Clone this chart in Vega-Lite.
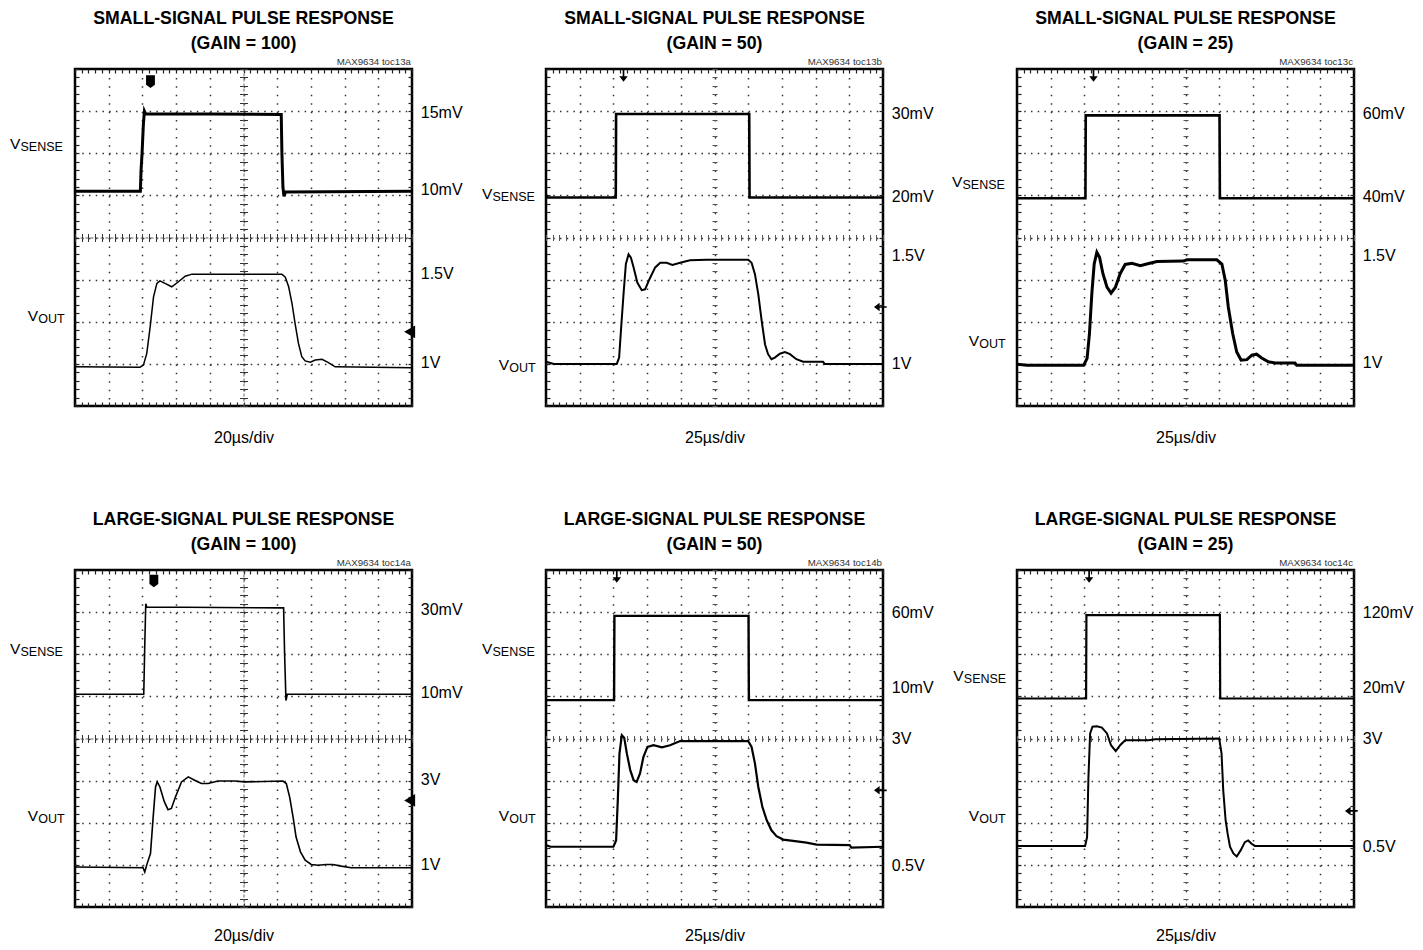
{
"$schema":"https://vega.github.io/schema/vega-lite/v6.json",
"background":"white",
"padding":{"left":8,"top":8,"right":5,"bottom":5},
"bounds":"flush",
"columns":3,
"spacing":{"column":134,"row":164},
"datasets":{
"p1_vsense":[{"x":0,"y":5.1},{"x":1.94,"y":5.1},{"x":1.96,"y":5.6},{"x":1.99,"y":6.0},{"x":2.03,"y":6.7},{"x":2.06,"y":7.0},{"x":2.1,"y":6.93},{"x":4.0,"y":6.93},{"x":6.12,"y":6.92},{"x":6.14,"y":6.0},{"x":6.17,"y":5.2},{"x":6.2,"y":4.98},{"x":6.25,"y":5.08},{"x":10,"y":5.1}],
"p1_vout":[{"x":0,"y":0.93},{"x":1.93,"y":0.92},{"x":2.03,"y":0.97},{"x":2.13,"y":1.25},{"x":2.23,"y":1.88},{"x":2.33,"y":2.59},{"x":2.43,"y":2.91},{"x":2.52,"y":2.97},{"x":2.67,"y":2.91},{"x":2.87,"y":2.83},{"x":3.07,"y":2.95},{"x":3.27,"y":3.08},{"x":3.47,"y":3.13},{"x":6.14,"y":3.13},{"x":6.24,"y":3.06},{"x":6.34,"y":2.83},{"x":6.44,"y":2.43},{"x":6.53,"y":1.96},{"x":6.63,"y":1.49},{"x":6.73,"y":1.17},{"x":6.83,"y":1.07},{"x":6.98,"y":1.04},{"x":7.13,"y":1.09},{"x":7.33,"y":1.11},{"x":7.52,"y":1.03},{"x":7.72,"y":0.93},{"x":10,"y":0.91}],
"p2_vsense":[{"x":0,"y":5.0},{"x":0.05,"y":4.95},{"x":2.07,"y":4.95},{"x":2.08,"y":6.93},{"x":6.03,"y":6.93},{"x":6.04,"y":4.95},{"x":10,"y":4.95}],
"p2_vout":[{"x":0,"y":1.05},{"x":0.23,"y":1.0},{"x":2.1,"y":1.0},{"x":2.17,"y":1.15},{"x":2.23,"y":1.86},{"x":2.3,"y":2.65},{"x":2.37,"y":3.37},{"x":2.45,"y":3.6},{"x":2.52,"y":3.52},{"x":2.6,"y":3.29},{"x":2.71,"y":2.93},{"x":2.84,"y":2.75},{"x":2.94,"y":2.77},{"x":3.07,"y":3.01},{"x":3.24,"y":3.29},{"x":3.39,"y":3.4},{"x":3.58,"y":3.4},{"x":3.75,"y":3.35},{"x":3.98,"y":3.4},{"x":4.27,"y":3.46},{"x":4.77,"y":3.47},{"x":6.0,"y":3.47},{"x":6.1,"y":3.4},{"x":6.2,"y":3.13},{"x":6.3,"y":2.65},{"x":6.4,"y":2.02},{"x":6.5,"y":1.46},{"x":6.59,"y":1.23},{"x":6.69,"y":1.11},{"x":6.79,"y":1.15},{"x":6.94,"y":1.24},{"x":7.09,"y":1.28},{"x":7.24,"y":1.23},{"x":7.43,"y":1.11},{"x":7.63,"y":1.05},{"x":8.22,"y":1.05},{"x":8.27,"y":1.0},{"x":10,"y":1.0}],
"p3_vsense":[{"x":0,"y":4.93},{"x":2.03,"y":4.93},{"x":2.04,"y":6.9},{"x":6.01,"y":6.9},{"x":6.02,"y":4.93},{"x":10,"y":4.93}],
"p3_vout":[{"x":0,"y":0.99},{"x":0.3,"y":0.97},{"x":1.98,"y":0.97},{"x":2.08,"y":1.13},{"x":2.15,"y":1.72},{"x":2.22,"y":2.66},{"x":2.29,"y":3.37},{"x":2.37,"y":3.65},{"x":2.45,"y":3.53},{"x":2.55,"y":3.14},{"x":2.67,"y":2.82},{"x":2.79,"y":2.68},{"x":2.92,"y":2.82},{"x":3.06,"y":3.14},{"x":3.21,"y":3.36},{"x":3.41,"y":3.39},{"x":3.66,"y":3.33},{"x":3.85,"y":3.37},{"x":4.15,"y":3.43},{"x":4.94,"y":3.44},{"x":5.04,"y":3.47},{"x":5.93,"y":3.47},{"x":6.08,"y":3.37},{"x":6.18,"y":2.98},{"x":6.27,"y":2.35},{"x":6.4,"y":1.72},{"x":6.52,"y":1.28},{"x":6.65,"y":1.09},{"x":6.82,"y":1.1},{"x":6.97,"y":1.21},{"x":7.11,"y":1.23},{"x":7.26,"y":1.14},{"x":7.46,"y":1.05},{"x":7.66,"y":1.02},{"x":8.25,"y":1.02},{"x":8.3,"y":0.97},{"x":10,"y":0.97}],
"p4_vsense":[{"x":0,"y":5.05},{"x":2.04,"y":5.05},{"x":2.07,"y":6.2},{"x":2.1,"y":7.2},{"x":2.13,"y":7.12},{"x":6.19,"y":7.1},{"x":6.22,"y":6.0},{"x":6.26,"y":4.9},{"x":6.3,"y":5.05},{"x":10,"y":5.05}],
"p4_vout":[{"x":0,"y":0.95},{"x":2.02,"y":0.93},{"x":2.07,"y":0.83},{"x":2.14,"y":1.03},{"x":2.24,"y":1.27},{"x":2.32,"y":2.14},{"x":2.39,"y":2.85},{"x":2.44,"y":2.97},{"x":2.52,"y":2.85},{"x":2.65,"y":2.5},{"x":2.76,"y":2.31},{"x":2.86,"y":2.34},{"x":2.98,"y":2.61},{"x":3.16,"y":2.97},{"x":3.36,"y":3.09},{"x":3.55,"y":3.01},{"x":3.75,"y":2.93},{"x":3.95,"y":2.93},{"x":4.24,"y":2.99},{"x":4.74,"y":2.99},{"x":5.03,"y":2.97},{"x":6.17,"y":2.99},{"x":6.27,"y":2.93},{"x":6.37,"y":2.61},{"x":6.47,"y":2.14},{"x":6.56,"y":1.66},{"x":6.69,"y":1.31},{"x":6.83,"y":1.11},{"x":7.01,"y":1.01},{"x":7.21,"y":0.99},{"x":7.45,"y":1.01},{"x":7.65,"y":1.01},{"x":7.9,"y":0.97},{"x":8.19,"y":0.93},{"x":10,"y":0.93}],
"p5_vsense":[{"x":0,"y":4.91},{"x":2.02,"y":4.91},{"x":2.03,"y":6.91},{"x":6.01,"y":6.91},{"x":6.02,"y":4.91},{"x":10,"y":4.91}],
"p5_vout":[{"x":0,"y":1.47},{"x":0.13,"y":1.43},{"x":2.0,"y":1.43},{"x":2.08,"y":1.58},{"x":2.13,"y":2.53},{"x":2.18,"y":3.64},{"x":2.25,"y":4.08},{"x":2.32,"y":4.02},{"x":2.4,"y":3.64},{"x":2.5,"y":3.25},{"x":2.6,"y":3.01},{"x":2.69,"y":2.97},{"x":2.79,"y":3.17},{"x":2.89,"y":3.56},{"x":3.01,"y":3.8},{"x":3.19,"y":3.84},{"x":3.44,"y":3.79},{"x":3.68,"y":3.84},{"x":3.98,"y":3.94},{"x":4.77,"y":3.94},{"x":6.0,"y":3.94},{"x":6.1,"y":3.8},{"x":6.2,"y":3.41},{"x":6.3,"y":2.85},{"x":6.42,"y":2.38},{"x":6.55,"y":2.06},{"x":6.69,"y":1.82},{"x":6.84,"y":1.68},{"x":7.04,"y":1.6},{"x":7.33,"y":1.57},{"x":7.73,"y":1.53},{"x":8.03,"y":1.48},{"x":9.01,"y":1.47},{"x":9.06,"y":1.41},{"x":10,"y":1.43}],
"p6_vsense":[{"x":0,"y":4.95},{"x":2.05,"y":4.95},{"x":2.06,"y":6.93},{"x":6.02,"y":6.93},{"x":6.03,"y":4.95},{"x":10,"y":4.95}],
"p6_vout":[{"x":0,"y":1.45},{"x":2.02,"y":1.45},{"x":2.08,"y":1.66},{"x":2.12,"y":3.09},{"x":2.17,"y":4.12},{"x":2.24,"y":4.28},{"x":2.37,"y":4.29},{"x":2.52,"y":4.26},{"x":2.67,"y":4.12},{"x":2.79,"y":3.84},{"x":2.93,"y":3.7},{"x":3.06,"y":3.84},{"x":3.21,"y":3.96},{"x":3.9,"y":3.96},{"x":4.1,"y":3.98},{"x":6.0,"y":4.0},{"x":6.07,"y":3.64},{"x":6.12,"y":2.77},{"x":6.19,"y":2.06},{"x":6.25,"y":1.74},{"x":6.32,"y":1.43},{"x":6.42,"y":1.27},{"x":6.52,"y":1.2},{"x":6.64,"y":1.35},{"x":6.76,"y":1.54},{"x":6.86,"y":1.58},{"x":6.96,"y":1.5},{"x":7.06,"y":1.45},{"x":10,"y":1.45}],
"p1_scale":[{"label":"15mV","y":6.95},{"label":"10mV","y":5.13},{"label":"1.5V","y":3.13},{"label":"1V","y":1.01}],
"p2_scale":[{"label":"30mV","y":6.93},{"label":"20mV","y":4.96},{"label":"1.5V","y":3.56},{"label":"1V","y":0.99}],
"p3_scale":[{"label":"60mV","y":6.92},{"label":"40mV","y":4.96},{"label":"1.5V","y":3.57},{"label":"1V","y":1.01}],
"p4_scale":[{"label":"30mV","y":7.05},{"label":"10mV","y":5.09},{"label":"3V","y":3.01},{"label":"1V","y":0.99}],
"p5_scale":[{"label":"60mV","y":6.97},{"label":"10mV","y":5.19},{"label":"3V","y":3.98},{"label":"0.5V","y":0.97}],
"p6_scale":[{"label":"120mV","y":6.97},{"label":"20mV","y":5.19},{"label":"3V","y":3.98},{"label":"0.5V","y":1.43}],
"p1_names":[{"main":"V","sub":"SENSE","x":-1.93,"y":6.09},{"main":"V","sub":"OUT","x":-1.4,"y":2.02}],
"p2_names":[{"main":"V","sub":"SENSE","x":-1.9,"y":4.91},{"main":"V","sub":"OUT","x":-1.4,"y":0.85}],
"p3_names":[{"main":"V","sub":"SENSE","x":-1.93,"y":5.21},{"main":"V","sub":"OUT","x":-1.43,"y":1.42}],
"p4_names":[{"main":"V","sub":"SENSE","x":-1.93,"y":6.0},{"main":"V","sub":"OUT","x":-1.4,"y":2.04}],
"p5_names":[{"main":"V","sub":"SENSE","x":-1.9,"y":6.0},{"main":"V","sub":"OUT","x":-1.4,"y":2.04}],
"p6_names":[{"main":"V","sub":"SENSE","x":-1.89,"y":5.37},{"main":"V","sub":"OUT","x":-1.43,"y":2.04}],
"p1_markers":[{"kind":"T","x":2.24,"y":7.7},{"kind":"diamond","x":9.93,"y":1.76}],
"p2_markers":[{"kind":"arrow","x":2.3,"y":7.83},{"kind":"left","x":9.9,"y":2.35}],
"p3_markers":[{"kind":"arrow","x":2.27,"y":7.83}],
"p4_markers":[{"kind":"T","x":2.34,"y":7.74},{"kind":"diamond","x":9.93,"y":2.53}],
"p5_markers":[{"kind":"arrow","x":2.1,"y":7.83},{"kind":"left","x":9.9,"y":2.77}],
"p6_markers":[{"kind":"arrow","x":2.14,"y":7.83},{"kind":"left","x":9.9,"y":2.28}]
},
"concat":[
{"width":337,"height":337,"title":{"text":["SMALL-SIGNAL PULSE RESPONSE","(GAIN = 100)"]},"resolve":{"axis":{"x":"independent","y":"independent"}},
"layer":[
{"data":{"name":"p1_vsense"},"mark":{"type":"line","color":"black","strokeWidth":3},"encoding":{"x":{"field":"x","type":"quantitative","scale":{"domain":[0,10],"nice":false,"zero":false},"axis":{"orient":"bottom","values":[1,2,3,4,5,6,7,8,9],"grid":true,"gridDash":[1.5,6.925],"ticks":false,"title":"20µs/div","titlePadding":23.5}},"y":{"field":"y","type":"quantitative","scale":{"domain":[0,8],"nice":false,"zero":false},"axis":{"orient":"left","values":[1,2,3,4,5,6,7],"grid":true,"gridDash":[1.5,5.24],"ticks":false,"title":null}}}},
{"data":{"name":"p1_vout"},"mark":{"type":"line","color":"black","strokeWidth":1.5},"encoding":{"x":{"field":"x","type":"quantitative","scale":{"domain":[0,10],"nice":false,"zero":false},"axis":{"orient":"bottom","offset":-4,"tickCount":50,"title":null}},"y":{"field":"y","type":"quantitative","scale":{"domain":[0,8],"nice":false,"zero":false},"axis":{"orient":"left","offset":-4,"tickCount":40,"title":null}}}},
{"data":{"name":"p1_scale"},"mark":{"type":"text","align":"left","baseline":"middle","fontSize":16},"encoding":{"x":{"datum":10.26,"type":"quantitative","scale":{"domain":[0,10],"nice":false,"zero":false},"axis":{"orient":"top","offset":-4,"tickCount":50,"title":null}},"y":{"field":"y","type":"quantitative","scale":{"domain":[0,8],"nice":false,"zero":false},"axis":{"orient":"right","offset":-4,"tickCount":40,"title":null}},"text":{"field":"label"}}},
{"data":{"name":"p1_names"},"mark":{"type":"text","align":"left","baseline":"alphabetic","fontSize":15.5},"encoding":{"x":{"field":"x","type":"quantitative","scale":{"domain":[0,10],"nice":false,"zero":false},"axis":{"orient":"bottom","offset":-168.5,"tickCount":50,"tickSize":4,"tickWidth":1,"tickColor":"#333","title":null,"domain":true,"domainDash":[3,2],"domainColor":"#666","domainWidth":1}},"y":{"field":"y","type":"quantitative","scale":{"domain":[0,8],"nice":false,"zero":false},"axis":{"orient":"left","offset":-168.5,"tickCount":40,"tickSize":4,"tickWidth":1,"tickColor":"#333","title":null,"domain":true,"domainDash":[3,2],"domainColor":"#666","domainWidth":1}},"text":{"field":"main"}}},
{"data":{"name":"p1_names"},"mark":{"type":"text","align":"left","baseline":"alphabetic","fontSize":12.5,"dx":10.5,"dy":2},"encoding":{"x":{"field":"x","type":"quantitative","scale":{"domain":[0,10],"nice":false,"zero":false},"axis":{"orient":"top","offset":-168.5,"tickCount":50,"tickSize":4,"tickWidth":1,"tickColor":"#333","title":null}},"y":{"field":"y","type":"quantitative","scale":{"domain":[0,8],"nice":false,"zero":false},"axis":{"orient":"right","offset":-168.5,"tickCount":40,"tickSize":4,"tickWidth":1,"tickColor":"#333","title":null}},"text":{"field":"sub"}}},
{"data":{"name":"p1_markers"},"mark":{"type":"point","filled":true,"color":"black","opacity":1,"size":160},"encoding":{"x":{"field":"x","type":"quantitative","scale":{"domain":[0,10],"nice":false,"zero":false},"axis":null},"y":{"field":"y","type":"quantitative","scale":{"domain":[0,8],"nice":false,"zero":false},"axis":null},"shape":{"field":"kind","type":"nominal","scale":{"domain":["T","arrow","diamond","left"],"range":["M-0.7,-1L0.7,-1L0.7,0.5L0,1L-0.7,0.5Z","M-0.12,-1L0.12,-1L0.12,0L0.6,0L0,0.8L-0.6,0L-0.12,0Z","triangle-left","M1,-0.12L0,-0.12L0,-0.6L-0.8,0L0,0.6L0,0.12L1,0.12Z"]},"legend":null}}},
{"data":{"values":[{"id":"MAX9634 toc13a"}]},"mark":{"type":"text","align":"right","baseline":"alphabetic","fontSize":9.7,"color":"#333"},"encoding":{"x":{"datum":9.97,"type":"quantitative","scale":{"domain":[0,10],"nice":false,"zero":false},"axis":null},"y":{"datum":8.1,"type":"quantitative","scale":{"domain":[0,8],"nice":false,"zero":false},"axis":null},"text":{"field":"id"}}}
]},
{"width":337,"height":337,"title":{"text":["SMALL-SIGNAL PULSE RESPONSE","(GAIN = 50)"]},"resolve":{"axis":{"x":"independent","y":"independent"}},
"layer":[
{"data":{"name":"p2_vsense"},"mark":{"type":"line","color":"black","strokeWidth":2.6},"encoding":{"x":{"field":"x","type":"quantitative","scale":{"domain":[0,10],"nice":false,"zero":false},"axis":{"orient":"bottom","values":[1,2,3,4,5,6,7,8,9],"grid":true,"gridDash":[1.5,6.925],"ticks":false,"title":"25µs/div","titlePadding":23.5}},"y":{"field":"y","type":"quantitative","scale":{"domain":[0,8],"nice":false,"zero":false},"axis":{"orient":"left","values":[1,2,3,4,5,6,7],"grid":true,"gridDash":[1.5,5.24],"ticks":false,"title":null}}}},
{"data":{"name":"p2_vout"},"mark":{"type":"line","color":"black","strokeWidth":2},"encoding":{"x":{"field":"x","type":"quantitative","scale":{"domain":[0,10],"nice":false,"zero":false},"axis":{"orient":"bottom","offset":-4,"tickCount":50,"title":null}},"y":{"field":"y","type":"quantitative","scale":{"domain":[0,8],"nice":false,"zero":false},"axis":{"orient":"left","offset":-4,"tickCount":40,"title":null}}}},
{"data":{"name":"p2_scale"},"mark":{"type":"text","align":"left","baseline":"middle","fontSize":16},"encoding":{"x":{"datum":10.26,"type":"quantitative","scale":{"domain":[0,10],"nice":false,"zero":false},"axis":{"orient":"top","offset":-4,"tickCount":50,"title":null}},"y":{"field":"y","type":"quantitative","scale":{"domain":[0,8],"nice":false,"zero":false},"axis":{"orient":"right","offset":-4,"tickCount":40,"title":null}},"text":{"field":"label"}}},
{"data":{"name":"p2_names"},"mark":{"type":"text","align":"left","baseline":"alphabetic","fontSize":15.5},"encoding":{"x":{"field":"x","type":"quantitative","scale":{"domain":[0,10],"nice":false,"zero":false},"axis":{"orient":"bottom","offset":-168.5,"tickCount":50,"tickSize":3,"tickWidth":1,"tickColor":"#555","title":null}},"y":{"field":"y","type":"quantitative","scale":{"domain":[0,8],"nice":false,"zero":false},"axis":{"orient":"left","offset":-168.5,"tickCount":40,"tickSize":2.5,"tickWidth":1,"tickColor":"#555","title":null}},"text":{"field":"main"}}},
{"data":{"name":"p2_names"},"mark":{"type":"text","align":"left","baseline":"alphabetic","fontSize":12.5,"dx":10.5,"dy":2},"encoding":{"x":{"field":"x","type":"quantitative","scale":{"domain":[0,10],"nice":false,"zero":false},"axis":{"orient":"top","offset":-168.5,"tickCount":50,"tickSize":3,"tickWidth":1,"tickColor":"#555","title":null}},"y":{"field":"y","type":"quantitative","scale":{"domain":[0,8],"nice":false,"zero":false},"axis":{"orient":"right","offset":-168.5,"tickCount":40,"tickSize":2.5,"tickWidth":1,"tickColor":"#555","title":null}},"text":{"field":"sub"}}},
{"data":{"name":"p2_markers"},"mark":{"type":"point","filled":true,"color":"black","opacity":1,"size":200},"encoding":{"x":{"field":"x","type":"quantitative","scale":{"domain":[0,10],"nice":false,"zero":false},"axis":null},"y":{"field":"y","type":"quantitative","scale":{"domain":[0,8],"nice":false,"zero":false},"axis":null},"shape":{"field":"kind","type":"nominal","scale":{"domain":["T","arrow","diamond","left"],"range":["M-0.7,-1L0.7,-1L0.7,0.5L0,1L-0.7,0.5Z","M-0.12,-1L0.12,-1L0.12,0L0.6,0L0,0.8L-0.6,0L-0.12,0Z","triangle-left","M1,-0.12L0,-0.12L0,-0.6L-0.8,0L0,0.6L0,0.12L1,0.12Z"]},"legend":null}}},
{"data":{"values":[{"id":"MAX9634 toc13b"}]},"mark":{"type":"text","align":"right","baseline":"alphabetic","fontSize":9.7,"color":"#333"},"encoding":{"x":{"datum":9.97,"type":"quantitative","scale":{"domain":[0,10],"nice":false,"zero":false},"axis":null},"y":{"datum":8.1,"type":"quantitative","scale":{"domain":[0,8],"nice":false,"zero":false},"axis":null},"text":{"field":"id"}}}
]},
{"width":337,"height":337,"title":{"text":["SMALL-SIGNAL PULSE RESPONSE","(GAIN = 25)"]},"resolve":{"axis":{"x":"independent","y":"independent"}},
"layer":[
{"data":{"name":"p3_vsense"},"mark":{"type":"line","color":"black","strokeWidth":2.6},"encoding":{"x":{"field":"x","type":"quantitative","scale":{"domain":[0,10],"nice":false,"zero":false},"axis":{"orient":"bottom","values":[1,2,3,4,5,6,7,8,9],"grid":true,"gridDash":[1.5,6.925],"ticks":false,"title":"25µs/div","titlePadding":23.5}},"y":{"field":"y","type":"quantitative","scale":{"domain":[0,8],"nice":false,"zero":false},"axis":{"orient":"left","values":[1,2,3,4,5,6,7],"grid":true,"gridDash":[1.5,5.24],"ticks":false,"title":null}}}},
{"data":{"name":"p3_vout"},"mark":{"type":"line","color":"black","strokeWidth":3},"encoding":{"x":{"field":"x","type":"quantitative","scale":{"domain":[0,10],"nice":false,"zero":false},"axis":{"orient":"bottom","offset":-4,"tickCount":50,"title":null}},"y":{"field":"y","type":"quantitative","scale":{"domain":[0,8],"nice":false,"zero":false},"axis":{"orient":"left","offset":-4,"tickCount":40,"title":null}}}},
{"data":{"name":"p3_scale"},"mark":{"type":"text","align":"left","baseline":"middle","fontSize":16},"encoding":{"x":{"datum":10.26,"type":"quantitative","scale":{"domain":[0,10],"nice":false,"zero":false},"axis":{"orient":"top","offset":-4,"tickCount":50,"title":null}},"y":{"field":"y","type":"quantitative","scale":{"domain":[0,8],"nice":false,"zero":false},"axis":{"orient":"right","offset":-4,"tickCount":40,"title":null}},"text":{"field":"label"}}},
{"data":{"name":"p3_names"},"mark":{"type":"text","align":"left","baseline":"alphabetic","fontSize":15.5},"encoding":{"x":{"field":"x","type":"quantitative","scale":{"domain":[0,10],"nice":false,"zero":false},"axis":{"orient":"bottom","offset":-168.5,"tickCount":50,"tickSize":3,"tickWidth":1,"tickColor":"#555","title":null}},"y":{"field":"y","type":"quantitative","scale":{"domain":[0,8],"nice":false,"zero":false},"axis":{"orient":"left","offset":-168.5,"tickCount":40,"tickSize":2.5,"tickWidth":1,"tickColor":"#555","title":null}},"text":{"field":"main"}}},
{"data":{"name":"p3_names"},"mark":{"type":"text","align":"left","baseline":"alphabetic","fontSize":12.5,"dx":10.5,"dy":2},"encoding":{"x":{"field":"x","type":"quantitative","scale":{"domain":[0,10],"nice":false,"zero":false},"axis":{"orient":"top","offset":-168.5,"tickCount":50,"tickSize":3,"tickWidth":1,"tickColor":"#555","title":null}},"y":{"field":"y","type":"quantitative","scale":{"domain":[0,8],"nice":false,"zero":false},"axis":{"orient":"right","offset":-168.5,"tickCount":40,"tickSize":2.5,"tickWidth":1,"tickColor":"#555","title":null}},"text":{"field":"sub"}}},
{"data":{"name":"p3_markers"},"mark":{"type":"point","filled":true,"color":"black","opacity":1,"size":200},"encoding":{"x":{"field":"x","type":"quantitative","scale":{"domain":[0,10],"nice":false,"zero":false},"axis":null},"y":{"field":"y","type":"quantitative","scale":{"domain":[0,8],"nice":false,"zero":false},"axis":null},"shape":{"field":"kind","type":"nominal","scale":{"domain":["T","arrow","diamond","left"],"range":["M-0.7,-1L0.7,-1L0.7,0.5L0,1L-0.7,0.5Z","M-0.12,-1L0.12,-1L0.12,0L0.6,0L0,0.8L-0.6,0L-0.12,0Z","triangle-left","M1,-0.12L0,-0.12L0,-0.6L-0.8,0L0,0.6L0,0.12L1,0.12Z"]},"legend":null}}},
{"data":{"values":[{"id":"MAX9634 toc13c"}]},"mark":{"type":"text","align":"right","baseline":"alphabetic","fontSize":9.7,"color":"#333"},"encoding":{"x":{"datum":9.97,"type":"quantitative","scale":{"domain":[0,10],"nice":false,"zero":false},"axis":null},"y":{"datum":8.1,"type":"quantitative","scale":{"domain":[0,8],"nice":false,"zero":false},"axis":null},"text":{"field":"id"}}}
]},
{"width":337,"height":337,"title":{"text":["LARGE-SIGNAL PULSE RESPONSE","(GAIN = 100)"]},"resolve":{"axis":{"x":"independent","y":"independent"}},
"layer":[
{"data":{"name":"p4_vsense"},"mark":{"type":"line","color":"black","strokeWidth":1.6},"encoding":{"x":{"field":"x","type":"quantitative","scale":{"domain":[0,10],"nice":false,"zero":false},"axis":{"orient":"bottom","values":[1,2,3,4,5,6,7,8,9],"grid":true,"gridDash":[1.5,6.925],"ticks":false,"title":"20µs/div","titlePadding":20.5}},"y":{"field":"y","type":"quantitative","scale":{"domain":[0,8],"nice":false,"zero":false},"axis":{"orient":"left","values":[1,2,3,4,5,6,7],"grid":true,"gridDash":[1.5,5.24],"ticks":false,"title":null}}}},
{"data":{"name":"p4_vout"},"mark":{"type":"line","color":"black","strokeWidth":1.6},"encoding":{"x":{"field":"x","type":"quantitative","scale":{"domain":[0,10],"nice":false,"zero":false},"axis":{"orient":"bottom","offset":-4,"tickCount":50,"title":null}},"y":{"field":"y","type":"quantitative","scale":{"domain":[0,8],"nice":false,"zero":false},"axis":{"orient":"left","offset":-4,"tickCount":40,"title":null}}}},
{"data":{"name":"p4_scale"},"mark":{"type":"text","align":"left","baseline":"middle","fontSize":16},"encoding":{"x":{"datum":10.26,"type":"quantitative","scale":{"domain":[0,10],"nice":false,"zero":false},"axis":{"orient":"top","offset":-4,"tickCount":50,"title":null}},"y":{"field":"y","type":"quantitative","scale":{"domain":[0,8],"nice":false,"zero":false},"axis":{"orient":"right","offset":-4,"tickCount":40,"title":null}},"text":{"field":"label"}}},
{"data":{"name":"p4_names"},"mark":{"type":"text","align":"left","baseline":"alphabetic","fontSize":15.5},"encoding":{"x":{"field":"x","type":"quantitative","scale":{"domain":[0,10],"nice":false,"zero":false},"axis":{"orient":"bottom","offset":-168.5,"tickCount":50,"tickSize":4,"tickWidth":1,"tickColor":"#333","title":null,"domain":true,"domainDash":[3,2],"domainColor":"#666","domainWidth":1}},"y":{"field":"y","type":"quantitative","scale":{"domain":[0,8],"nice":false,"zero":false},"axis":{"orient":"left","offset":-168.5,"tickCount":40,"tickSize":4,"tickWidth":1,"tickColor":"#333","title":null,"domain":true,"domainDash":[3,2],"domainColor":"#666","domainWidth":1}},"text":{"field":"main"}}},
{"data":{"name":"p4_names"},"mark":{"type":"text","align":"left","baseline":"alphabetic","fontSize":12.5,"dx":10.5,"dy":2},"encoding":{"x":{"field":"x","type":"quantitative","scale":{"domain":[0,10],"nice":false,"zero":false},"axis":{"orient":"top","offset":-168.5,"tickCount":50,"tickSize":4,"tickWidth":1,"tickColor":"#333","title":null}},"y":{"field":"y","type":"quantitative","scale":{"domain":[0,8],"nice":false,"zero":false},"axis":{"orient":"right","offset":-168.5,"tickCount":40,"tickSize":4,"tickWidth":1,"tickColor":"#333","title":null}},"text":{"field":"sub"}}},
{"data":{"name":"p4_markers"},"mark":{"type":"point","filled":true,"color":"black","opacity":1,"size":160},"encoding":{"x":{"field":"x","type":"quantitative","scale":{"domain":[0,10],"nice":false,"zero":false},"axis":null},"y":{"field":"y","type":"quantitative","scale":{"domain":[0,8],"nice":false,"zero":false},"axis":null},"shape":{"field":"kind","type":"nominal","scale":{"domain":["T","arrow","diamond","left"],"range":["M-0.7,-1L0.7,-1L0.7,0.5L0,1L-0.7,0.5Z","M-0.12,-1L0.12,-1L0.12,0L0.6,0L0,0.8L-0.6,0L-0.12,0Z","triangle-left","M1,-0.12L0,-0.12L0,-0.6L-0.8,0L0,0.6L0,0.12L1,0.12Z"]},"legend":null}}},
{"data":{"values":[{"id":"MAX9634 toc14a"}]},"mark":{"type":"text","align":"right","baseline":"alphabetic","fontSize":9.7,"color":"#333"},"encoding":{"x":{"datum":9.97,"type":"quantitative","scale":{"domain":[0,10],"nice":false,"zero":false},"axis":null},"y":{"datum":8.1,"type":"quantitative","scale":{"domain":[0,8],"nice":false,"zero":false},"axis":null},"text":{"field":"id"}}}
]},
{"width":337,"height":337,"title":{"text":["LARGE-SIGNAL PULSE RESPONSE","(GAIN = 50)"]},"resolve":{"axis":{"x":"independent","y":"independent"}},
"layer":[
{"data":{"name":"p5_vsense"},"mark":{"type":"line","color":"black","strokeWidth":2.4},"encoding":{"x":{"field":"x","type":"quantitative","scale":{"domain":[0,10],"nice":false,"zero":false},"axis":{"orient":"bottom","values":[1,2,3,4,5,6,7,8,9],"grid":true,"gridDash":[1.5,6.925],"ticks":false,"title":"25µs/div","titlePadding":20.5}},"y":{"field":"y","type":"quantitative","scale":{"domain":[0,8],"nice":false,"zero":false},"axis":{"orient":"left","values":[1,2,3,4,5,6,7],"grid":true,"gridDash":[1.5,5.24],"ticks":false,"title":null}}}},
{"data":{"name":"p5_vout"},"mark":{"type":"line","color":"black","strokeWidth":2.2},"encoding":{"x":{"field":"x","type":"quantitative","scale":{"domain":[0,10],"nice":false,"zero":false},"axis":{"orient":"bottom","offset":-4,"tickCount":50,"title":null}},"y":{"field":"y","type":"quantitative","scale":{"domain":[0,8],"nice":false,"zero":false},"axis":{"orient":"left","offset":-4,"tickCount":40,"title":null}}}},
{"data":{"name":"p5_scale"},"mark":{"type":"text","align":"left","baseline":"middle","fontSize":16},"encoding":{"x":{"datum":10.26,"type":"quantitative","scale":{"domain":[0,10],"nice":false,"zero":false},"axis":{"orient":"top","offset":-4,"tickCount":50,"title":null}},"y":{"field":"y","type":"quantitative","scale":{"domain":[0,8],"nice":false,"zero":false},"axis":{"orient":"right","offset":-4,"tickCount":40,"title":null}},"text":{"field":"label"}}},
{"data":{"name":"p5_names"},"mark":{"type":"text","align":"left","baseline":"alphabetic","fontSize":15.5},"encoding":{"x":{"field":"x","type":"quantitative","scale":{"domain":[0,10],"nice":false,"zero":false},"axis":{"orient":"bottom","offset":-168.5,"tickCount":50,"tickSize":3,"tickWidth":1,"tickColor":"#555","title":null}},"y":{"field":"y","type":"quantitative","scale":{"domain":[0,8],"nice":false,"zero":false},"axis":{"orient":"left","offset":-168.5,"tickCount":40,"tickSize":2.5,"tickWidth":1,"tickColor":"#555","title":null}},"text":{"field":"main"}}},
{"data":{"name":"p5_names"},"mark":{"type":"text","align":"left","baseline":"alphabetic","fontSize":12.5,"dx":10.5,"dy":2},"encoding":{"x":{"field":"x","type":"quantitative","scale":{"domain":[0,10],"nice":false,"zero":false},"axis":{"orient":"top","offset":-168.5,"tickCount":50,"tickSize":3,"tickWidth":1,"tickColor":"#555","title":null}},"y":{"field":"y","type":"quantitative","scale":{"domain":[0,8],"nice":false,"zero":false},"axis":{"orient":"right","offset":-168.5,"tickCount":40,"tickSize":2.5,"tickWidth":1,"tickColor":"#555","title":null}},"text":{"field":"sub"}}},
{"data":{"name":"p5_markers"},"mark":{"type":"point","filled":true,"color":"black","opacity":1,"size":200},"encoding":{"x":{"field":"x","type":"quantitative","scale":{"domain":[0,10],"nice":false,"zero":false},"axis":null},"y":{"field":"y","type":"quantitative","scale":{"domain":[0,8],"nice":false,"zero":false},"axis":null},"shape":{"field":"kind","type":"nominal","scale":{"domain":["T","arrow","diamond","left"],"range":["M-0.7,-1L0.7,-1L0.7,0.5L0,1L-0.7,0.5Z","M-0.12,-1L0.12,-1L0.12,0L0.6,0L0,0.8L-0.6,0L-0.12,0Z","triangle-left","M1,-0.12L0,-0.12L0,-0.6L-0.8,0L0,0.6L0,0.12L1,0.12Z"]},"legend":null}}},
{"data":{"values":[{"id":"MAX9634 toc14b"}]},"mark":{"type":"text","align":"right","baseline":"alphabetic","fontSize":9.7,"color":"#333"},"encoding":{"x":{"datum":9.97,"type":"quantitative","scale":{"domain":[0,10],"nice":false,"zero":false},"axis":null},"y":{"datum":8.1,"type":"quantitative","scale":{"domain":[0,8],"nice":false,"zero":false},"axis":null},"text":{"field":"id"}}}
]},
{"width":337,"height":337,"title":{"text":["LARGE-SIGNAL PULSE RESPONSE","(GAIN = 25)"]},"resolve":{"axis":{"x":"independent","y":"independent"}},
"layer":[
{"data":{"name":"p6_vsense"},"mark":{"type":"line","color":"black","strokeWidth":2.2},"encoding":{"x":{"field":"x","type":"quantitative","scale":{"domain":[0,10],"nice":false,"zero":false},"axis":{"orient":"bottom","values":[1,2,3,4,5,6,7,8,9],"grid":true,"gridDash":[1.5,6.925],"ticks":false,"title":"25µs/div","titlePadding":20.5}},"y":{"field":"y","type":"quantitative","scale":{"domain":[0,8],"nice":false,"zero":false},"axis":{"orient":"left","values":[1,2,3,4,5,6,7],"grid":true,"gridDash":[1.5,5.24],"ticks":false,"title":null}}}},
{"data":{"name":"p6_vout"},"mark":{"type":"line","color":"black","strokeWidth":2},"encoding":{"x":{"field":"x","type":"quantitative","scale":{"domain":[0,10],"nice":false,"zero":false},"axis":{"orient":"bottom","offset":-4,"tickCount":50,"title":null}},"y":{"field":"y","type":"quantitative","scale":{"domain":[0,8],"nice":false,"zero":false},"axis":{"orient":"left","offset":-4,"tickCount":40,"title":null}}}},
{"data":{"name":"p6_scale"},"mark":{"type":"text","align":"left","baseline":"middle","fontSize":16},"encoding":{"x":{"datum":10.26,"type":"quantitative","scale":{"domain":[0,10],"nice":false,"zero":false},"axis":{"orient":"top","offset":-4,"tickCount":50,"title":null}},"y":{"field":"y","type":"quantitative","scale":{"domain":[0,8],"nice":false,"zero":false},"axis":{"orient":"right","offset":-4,"tickCount":40,"title":null}},"text":{"field":"label"}}},
{"data":{"name":"p6_names"},"mark":{"type":"text","align":"left","baseline":"alphabetic","fontSize":15.5},"encoding":{"x":{"field":"x","type":"quantitative","scale":{"domain":[0,10],"nice":false,"zero":false},"axis":{"orient":"bottom","offset":-168.5,"tickCount":50,"tickSize":3,"tickWidth":1,"tickColor":"#555","title":null}},"y":{"field":"y","type":"quantitative","scale":{"domain":[0,8],"nice":false,"zero":false},"axis":{"orient":"left","offset":-168.5,"tickCount":40,"tickSize":2.5,"tickWidth":1,"tickColor":"#555","title":null}},"text":{"field":"main"}}},
{"data":{"name":"p6_names"},"mark":{"type":"text","align":"left","baseline":"alphabetic","fontSize":12.5,"dx":10.5,"dy":2},"encoding":{"x":{"field":"x","type":"quantitative","scale":{"domain":[0,10],"nice":false,"zero":false},"axis":{"orient":"top","offset":-168.5,"tickCount":50,"tickSize":3,"tickWidth":1,"tickColor":"#555","title":null}},"y":{"field":"y","type":"quantitative","scale":{"domain":[0,8],"nice":false,"zero":false},"axis":{"orient":"right","offset":-168.5,"tickCount":40,"tickSize":2.5,"tickWidth":1,"tickColor":"#555","title":null}},"text":{"field":"sub"}}},
{"data":{"name":"p6_markers"},"mark":{"type":"point","filled":true,"color":"black","opacity":1,"size":200},"encoding":{"x":{"field":"x","type":"quantitative","scale":{"domain":[0,10],"nice":false,"zero":false},"axis":null},"y":{"field":"y","type":"quantitative","scale":{"domain":[0,8],"nice":false,"zero":false},"axis":null},"shape":{"field":"kind","type":"nominal","scale":{"domain":["T","arrow","diamond","left"],"range":["M-0.7,-1L0.7,-1L0.7,0.5L0,1L-0.7,0.5Z","M-0.12,-1L0.12,-1L0.12,0L0.6,0L0,0.8L-0.6,0L-0.12,0Z","triangle-left","M1,-0.12L0,-0.12L0,-0.6L-0.8,0L0,0.6L0,0.12L1,0.12Z"]},"legend":null}}},
{"data":{"values":[{"id":"MAX9634 toc14c"}]},"mark":{"type":"text","align":"right","baseline":"alphabetic","fontSize":9.7,"color":"#333"},"encoding":{"x":{"datum":9.97,"type":"quantitative","scale":{"domain":[0,10],"nice":false,"zero":false},"axis":null},"y":{"datum":8.1,"type":"quantitative","scale":{"domain":[0,8],"nice":false,"zero":false},"axis":null},"text":{"field":"id"}}}
]}
],
"config":{
"font":"Liberation Sans, Arial, sans-serif",
"view":{"stroke":"black","strokeWidth":2.5},
"axis":{"labels":false,"domain":false,"grid":false,"tickSize":4,"tickWidth":1.2,"tickColor":"#222","gridColor":"#333","gridWidth":1.5,"titleFontWeight":"normal","titleFontSize":16,"titleColor":"black","titlePadding":24.5},
"title":{"fontSize":17.7,"fontWeight":"bold","lineHeight":25,"frame":"group","anchor":"middle","offset":4,"color":"black"},
"text":{"color":"black"}
}
}
